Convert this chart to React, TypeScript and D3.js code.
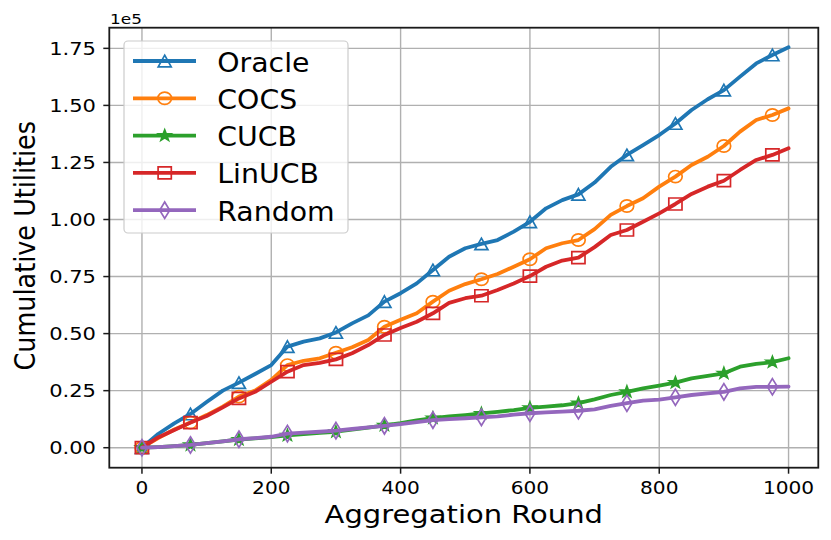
import React, { useEffect, useRef } from 'react';
import * as d3 from 'd3';

// rounds sampled every 25 aggregation rounds
const rounds = [
  0, 25, 50, 75, 100, 125, 150, 175, 200, 225, 250, 275, 300, 325, 350, 375, 400, 425, 450, 475,
  500, 525, 550, 575, 600, 625, 650, 675, 700, 725, 750, 775, 800, 825, 850, 875, 900, 925, 950, 975, 1000,
];

const oracle = [
  0, 6000, 10700, 14800, 20000, 25000, 28500, 32300, 36200, 44300, 46500, 47900, 50500, 54500, 58000, 64000,
  67700, 72000, 77900, 83700, 87400, 89300, 91000, 94700, 99000, 104900, 108500, 111000, 116200, 123100,
  128300, 132600, 137000, 142100, 148000, 152700, 156700, 162600, 168400, 172100, 175500,
];
const cocs = [
  0, 4200, 8000, 11000, 14300, 18000, 22400, 25000, 29700, 36200, 38100, 39200, 41600, 44000, 47200, 53000,
  56100, 58900, 64000, 68800, 71700, 73800, 76100, 79300, 82600, 87400, 89600, 91000, 95800, 102000,
  105900, 109300, 114400, 118800, 123900, 127500, 132200, 138500, 143600, 145800, 148700,
];
const cucb = [
  0, 300, 700, 1200, 2000, 2800, 3600, 4100, 4600, 5400, 6000, 6500, 7000, 7900, 8800, 9800,
  10800, 12000, 13000, 13700, 14300, 15000, 15700, 16500, 17500, 18000, 18600, 19500, 21200, 23100,
  24500, 26000, 27200, 28500, 30400, 31500, 32600, 35500, 36700, 37500, 39200,
];
const linucb = [
  0, 4500, 7800, 11000, 13900, 17700, 21600, 24500, 28900, 33300, 36200, 37200, 38700, 41400, 45000, 49400,
  52500, 55200, 58900, 63500, 65500, 66600, 69100, 72000, 75200, 79300, 82000, 83300, 87900, 93200,
  95400, 99000, 102700, 106800, 111200, 114400, 117000, 121700, 126100, 128300, 131200,
];
const random = [
  0, 300, 700, 1200, 2000, 2800, 3700, 4200, 4800, 6200, 6600, 7000, 7500, 8200, 8900, 9600,
  10300, 11200, 12100, 12500, 12900, 13300, 13700, 14500, 15100, 15500, 15800, 16200, 16800, 18300,
  19500, 20600, 21100, 22100, 23100, 23800, 24500, 26000, 26700, 26700, 26800,
];

const markerRounds = [0, 75, 150, 225, 300, 375, 450, 525, 600, 675, 750, 825, 900, 975];
const xTicks = [0, 200, 400, 600, 800, 1000];
const yTicks = [0, 25000, 50000, 75000, 100000, 125000, 150000, 175000];

const seriesNames = ['Oracle', 'COCS', 'CUCB', 'LinUCB', 'Random'];
const seriesValues = [oracle, cocs, cucb, linucb, random];
const seriesColors = ['#1f77b4', '#ff7f0e', '#2ca02c', '#d62728', '#9467bd'];
const seriesMarkers = ['triangle', 'circle', 'star', 'square', 'thinDiamond'];

const FONT = '"DejaVu Sans", sans-serif';

// marker outlines, a touch wider than tall like the reference
function markerPath(kind: string): string {
  switch (kind) {
    case 'triangle':
      return 'M0,-5.8L6.5,5.8L-6.5,5.8Z';
    case 'square':
      return 'M-6.6,-6L6.6,-6L6.6,6L-6.6,6Z';
    case 'thinDiamond':
      return 'M0,-8.2L5,0L0,8.2L-5,0Z';
    case 'star': {
      const pts: string[] = [];
      for (let i = 0; i < 10; i++) {
        const r = i % 2 === 0 ? 5.8 : 2.3;
        const a = (Math.PI / 5) * i - Math.PI / 2;
        pts.push(`${(r * Math.cos(a) * 1.1).toFixed(2)},${(r * Math.sin(a)).toFixed(2)}`);
      }
      return 'M' + pts.join('L') + 'Z';
    }
    default:
      return 'M-6.8,0A6.8,6.1 0 1,0 6.8,0A6.8,6.1 0 1,0 -6.8,0Z';
  }
}

const Chart: React.FC = () => {
  const svgRef = useRef<SVGSVGElement>(null);
  const width = 831;
  const height = 540;

  useEffect(() => {
    if (!svgRef.current) return;
    const svg = d3.select(svgRef.current);
    svg.selectAll('*').remove();

    const left = 109.3;
    const right = 818.3;
    const top = 27.7;
    const bottom = 467.7;

    const x = d3.scaleLinear().domain([-50.5, 1046]).range([left, right]);
    const y = d3.scaleLinear().domain([-8760, 184050]).range([bottom, top]);

    const addText = (
      px: number, py: number, str: string, size: number, sx: number,
      anchor: string, rotate = 0,
    ) => {
      svg.append('text')
        .attr('transform', `translate(${px},${py}) scale(${sx},1) rotate(${rotate})`)
        .attr('text-anchor', anchor)
        .attr('font-family', FONT)
        .attr('font-size', size)
        .attr('fill', '#000')
        .text(str);
    };

    // Grid
    const grid = svg.append('g').attr('stroke', '#b0b0b0').attr('stroke-width', 1.4);
    xTicks.forEach(t => {
      grid.append('line').attr('x1', x(t)).attr('x2', x(t)).attr('y1', top).attr('y2', bottom);
    });
    yTicks.forEach(t => {
      grid.append('line').attr('x1', left).attr('x2', right).attr('y1', y(t)).attr('y2', y(t));
    });

    // Lines and markers
    const clip = svg.append('clipPath').attr('id', 'plot-clip');
    clip.append('rect').attr('x', left).attr('y', top).attr('width', right - left).attr('height', bottom - top);
    const plot = svg.append('g').attr('clip-path', 'url(#plot-clip)');

    const line = d3.line<number>()
      .x((_, i) => x(rounds[i]))
      .y(d => y(d));

    seriesValues.forEach((vals, s) => {
      const color = seriesColors[s];
      plot.append('path')
        .datum(vals)
        .attr('fill', 'none')
        .attr('stroke', color)
        .attr('stroke-width', 3.8)
        .attr('stroke-linejoin', 'round')
        .attr('stroke-linecap', 'round')
        .attr('d', line);

      const filled = seriesMarkers[s] === 'star';
      markerRounds.forEach(r => {
        const i = rounds.indexOf(r);
        plot.append('path')
          .attr('transform', `translate(${x(r)},${y(vals[i])})`)
          .attr('d', markerPath(seriesMarkers[s]))
          .attr('fill', filled ? color : 'none')
          .attr('stroke', color)
          .attr('stroke-width', 1.7);
      });
    });

    // Spines
    svg.append('rect')
      .attr('x', left).attr('y', top)
      .attr('width', right - left).attr('height', bottom - top)
      .attr('fill', 'none').attr('stroke', '#1a1a1a').attr('stroke-width', 1.8);

    // Ticks and labels
    xTicks.forEach(t => {
      svg.append('line').attr('x1', x(t)).attr('x2', x(t)).attr('y1', bottom).attr('y2', bottom + 6)
        .attr('stroke', '#1a1a1a').attr('stroke-width', 1.5);
      addText(x(t), 494, String(t), 17.5, 1.15, 'middle');
    });
    yTicks.forEach(t => {
      svg.append('line').attr('x1', left - 6).attr('x2', left).attr('y1', y(t)).attr('y2', y(t))
        .attr('stroke', '#1a1a1a').attr('stroke-width', 1.5);
      addText(96, y(t) + 6.7, (t / 1e5).toFixed(2), 18.3, 1.15, 'end');
    });
    addText(110, 24, '1e5', 14.7, 1.15, 'start');

    // Axis titles
    addText((left + right) / 2, 523, 'Aggregation Round', 25, 1.16, 'middle');
    addText(35, (top + bottom) / 2 - 2, 'Cumulative Utilities', 25.5, 1.12, 'middle', -90);

    // Legend
    svg.append('rect')
      .attr('x', 124).attr('y', 41).attr('width', 224).attr('height', 192)
      .attr('rx', 4)
      .attr('fill', 'rgba(255,255,255,0.8)')
      .attr('stroke', '#cccccc').attr('stroke-width', 1.2);

    seriesNames.forEach((name, s) => {
      const cy = 61 + s * 37.3;
      const color = seriesColors[s];
      svg.append('line').attr('x1', 133).attr('x2', 196).attr('y1', cy).attr('y2', cy)
        .attr('stroke', color).attr('stroke-width', 3.8);
      svg.append('path')
        .attr('transform', `translate(164.7,${cy})`)
        .attr('d', markerPath(seriesMarkers[s]))
        .attr('fill', seriesMarkers[s] === 'star' ? color : 'none')
        .attr('stroke', color).attr('stroke-width', 1.7);
      addText(217.3, cy + 10.5, name, 26, 1.09, 'start');
    });
  }, []);

  return <svg ref={svgRef} width={width} height={height} style={{ position: 'fixed', left: 0, top: 0, background: '#fff' }} />;
};

export default function App() {
  return <Chart />;
}
